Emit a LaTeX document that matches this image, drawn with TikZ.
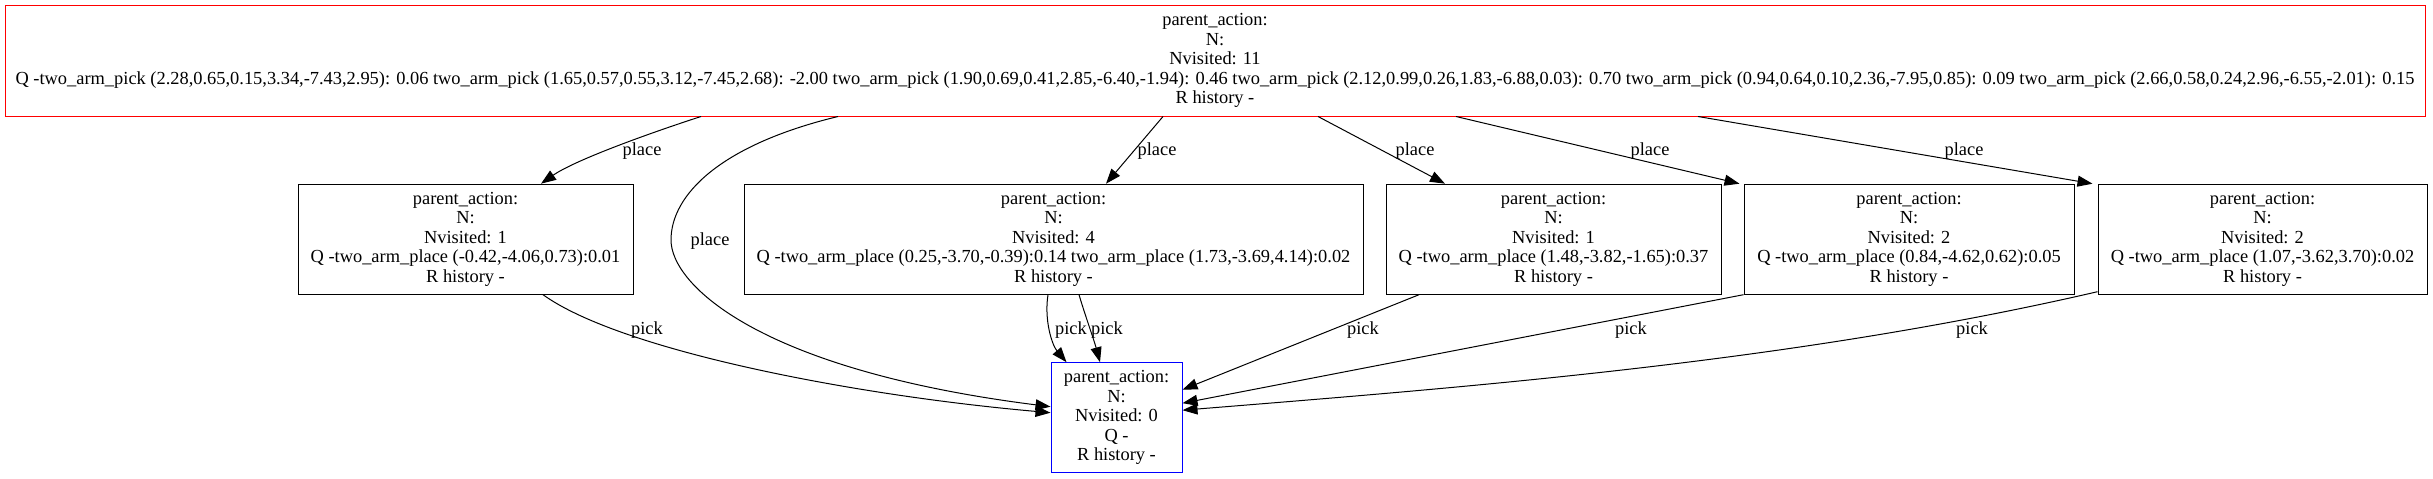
\documentclass[tikz,border=0pt]{standalone}
\usepackage{fontspec}
\setmainfont{Liberation Serif}
\usepackage{tikz}
\usetikzlibrary{arrows.meta}
\definecolor{rootred}{HTML}{FF0000}
\definecolor{leafblue}{HTML}{0000FF}
\tikzset{
  statebox/.style={
    draw=black,
    line width=1pt,
    rectangle,
    align=center,
    inner xsep=4pt,
    inner ysep=0pt,
    minimum height=110pt,
    font=\fontsize{18.4}{19.5}\selectfont
  },
  rootbox/.style={statebox, draw=rootred, minimum height=111pt},
  leafbox/.style={statebox, draw=leafblue},
  treearrow/.style={-{Triangle[length=15pt,width=11pt]}, line width=1pt, draw=black},
  edgelabel/.style={font=\fontsize{18.4}{19.5}\selectfont, inner sep=0pt}
}

\begin{document}
\begin{tikzpicture}[x=1pt, y=-1pt]
\useasboundingbox (0,0) rectangle (2433,479);

% root of the search tree
\node[rootbox, minimum width=2420pt] (root) at (1215,60.5) {parent\_action:\\N:\\Nvisited: 11\\Q -two\_arm\_pick (2.28,0.65,0.15,3.34,-7.43,2.95): 0.06 two\_arm\_pick (1.65,0.57,0.55,3.12,-7.45,2.68): -2.00 two\_arm\_pick (1.90,0.69,0.41,2.85,-6.40,-1.94): 0.46 two\_arm\_pick (2.12,0.99,0.26,1.83,-6.88,0.03): 0.70 two\_arm\_pick (0.94,0.64,0.10,2.36,-7.95,0.85): 0.09 two\_arm\_pick (2.66,0.58,0.24,2.96,-6.55,-2.01): 0.15\\R history -};

% place children
\node[statebox, minimum width=335pt] (pa) at (465.5,239.2) {parent\_action:\\N:\\Nvisited: 1\\Q -two\_arm\_place (-0.42,-4.06,0.73):0.01\\R history -};
\node[statebox, minimum width=619pt] (pb) at (1053.5,239.2) {parent\_action:\\N:\\Nvisited: 4\\Q -two\_arm\_place (0.25,-3.70,-0.39):0.14 two\_arm\_place (1.73,-3.69,4.14):0.02\\R history -};
\node[statebox, minimum width=335pt] (pc) at (1553.5,239.2) {parent\_action:\\N:\\Nvisited: 1\\Q -two\_arm\_place (1.48,-3.82,-1.65):0.37\\R history -};
\node[statebox, minimum width=330pt] (pd) at (1909,239.2) {parent\_action:\\N:\\Nvisited: 2\\Q -two\_arm\_place (0.84,-4.62,0.62):0.05\\R history -};
\node[statebox, minimum width=329pt] (pe) at (2262.5,239.2) {parent\_action:\\N:\\Nvisited: 2\\Q -two\_arm\_place (1.07,-3.62,3.70):0.02\\R history -};

% unvisited leaf
\node[leafbox, minimum width=131pt] (leaf) at (1116.5,417.7) {parent\_action:\\N:\\Nvisited: 0\\Q -\\R history -};

% place edges
\draw[treearrow] ([xshift=-514pt]root.south) .. controls (650,133) and (575,160) .. ([xshift=75.5pt]pa.north);
\draw[treearrow] ([xshift=-377pt]root.south) .. controls (720,145) and (671,195) .. (671,240) .. controls (671,285) and (760,370) .. ([yshift=11pt]leaf.west);
\draw[treearrow] ([xshift=-52pt]root.south) -- ([xshift=52.5pt]pb.north);
\draw[treearrow] ([xshift=103pt]root.south) -- ([xshift=-108.5pt]pc.north);
\draw[treearrow] ([xshift=241pt]root.south) -- ([xshift=-4pt]pd.north west);
\draw[treearrow] ([xshift=483pt]root.south) -- ([xshift=-5pt]pe.north west);

\node[edgelabel] (lpa) at (642,151) {place};
\node[edgelabel] (lpleaf) at (710,241) {place};
\node[edgelabel] (lpb) at (1157,151) {place};
\node[edgelabel] (lpc) at (1415,151) {place};
\node[edgelabel] (lpd) at (1650,151) {place};
\node[edgelabel] (lpe) at (1964,151) {place};

% pick edges
\draw[treearrow] ([xshift=77.5pt]pa.south) .. controls (620,350) and (850,395) .. ([yshift=5pt]leaf.west);
\draw[treearrow] ([xshift=-5.5pt]pb.south) .. controls (1044,320) and (1052,345) .. ([xshift=-50pt]leaf.north);
\draw[treearrow] ([xshift=25.5pt]pb.south) .. controls (1085,315) and (1094,340) .. ([xshift=-16.5pt]leaf.north);
\draw[treearrow] ([xshift=-134.5pt]pc.south) -- ([yshift=28pt]leaf.east);
\draw[treearrow] (pd.south west) -- ([yshift=14.5pt]leaf.east);
\draw[treearrow] ([yshift=3pt]pe.south west) .. controls (1798,361) and (1482,386) .. ([yshift=7.5pt]leaf.east);

\node[edgelabel] (lka) at (647,330) {pick};
\node[edgelabel] (lkb) at (1071,330) {pick};
\node[edgelabel] (lkbb) at (1107,330) {pick};
\node[edgelabel] (lkc) at (1363,330) {pick};
\node[edgelabel] (lkd) at (1631,330) {pick};
\node[edgelabel] (lke) at (1972,330) {pick};
\end{tikzpicture}
\end{document}
